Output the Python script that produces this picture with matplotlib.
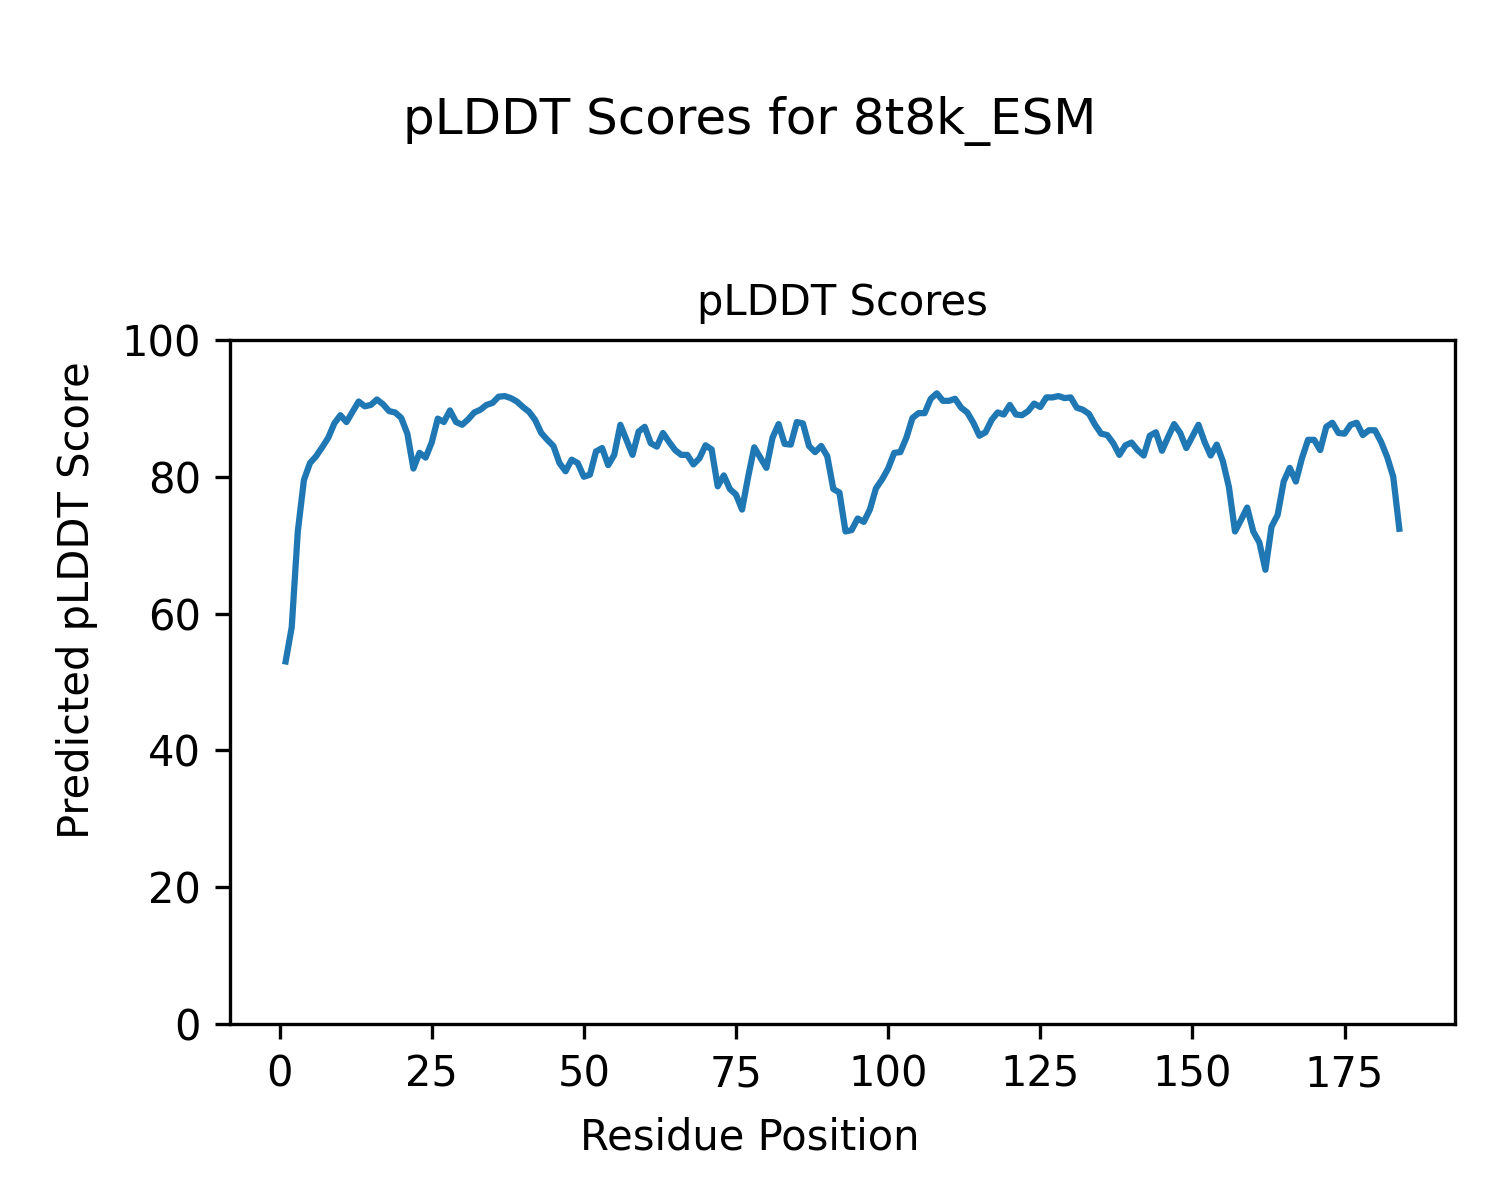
import numpy as np
import matplotlib
matplotlib.use('Agg')
from matplotlib import pyplot as plt

# pLDDT per residue
plddt = [
    53.0, 58.0, 72.0, 79.5, 82.0, 83.0, 84.3, 85.7, 87.8, 89.0,
    88.0, 89.5, 91.0, 90.3, 90.5, 91.3, 90.6, 89.6, 89.4, 88.6,
    86.3, 81.2, 83.5, 82.8, 85.0, 88.5, 88.0, 89.7, 88.0, 87.6,
    88.4, 89.4, 89.8, 90.5, 90.8, 91.7, 91.8, 91.5, 91.0, 90.2,
    89.5, 88.3, 86.4, 85.4, 84.5, 82.0, 80.8, 82.5, 82.0, 80.0,
    80.3, 83.7, 84.2, 81.7, 83.2, 87.6, 85.4, 83.2, 86.6, 87.3,
    84.9, 84.4, 86.4, 85.1, 83.9, 83.2, 83.2, 81.8, 82.7, 84.6,
    84.0, 78.6, 80.2, 78.2, 77.4, 75.2, 80.0, 84.3, 82.8, 81.3,
    85.7, 87.7, 84.8, 84.7, 88.0, 87.8, 84.5, 83.6, 84.5, 83.0,
    78.2, 77.7, 72.0, 72.2, 73.9, 73.4, 75.2, 78.3, 79.6, 81.2,
    83.5, 83.6, 85.7, 88.6, 89.3, 89.3, 91.4, 92.2, 91.1, 91.1,
    91.4, 90.1, 89.4, 87.9, 86.0, 86.5, 88.3, 89.4, 89.1, 90.5,
    89.1, 89.0, 89.6, 90.7, 90.2, 91.6, 91.6, 91.8, 91.5, 91.6,
    90.1, 89.8, 89.2, 87.6, 86.3, 86.1, 84.9, 83.2, 84.6, 85.0,
    83.9, 83.1, 86.0, 86.5, 83.8, 85.8, 87.7, 86.4, 84.2, 85.9,
    87.6, 85.1, 83.1, 84.7, 82.3, 78.5, 72.0, 73.7, 75.5, 72.0,
    70.4, 66.4, 72.7, 74.4, 79.3, 81.3, 79.3, 82.7, 85.4, 85.4,
    83.9, 87.3, 87.9, 86.4, 86.3, 87.6, 87.9, 86.1, 86.8, 86.8,
    85.1, 82.9, 80.0, 72.4,
]
residues = np.arange(1, len(plddt) + 1)

fig = plt.figure(figsize=(5, 4), dpi=300)
ax = fig.add_axes([0.1533, 0.1467, 0.8167, 0.57])
ax.plot(residues, plddt, color='tab:blue', linewidth=1.5)
ax.set_ylim(0, 100)
ax.set_title('pLDDT Scores', fontsize=10)

# labels sit on the figure, not the axes
fig.supxlabel('Residue Position', fontsize=10, y=0.0517, va='center')
fig.supylabel('Predicted pLDDT Score', fontsize=10, x=0.0513, ha='center')
fig.suptitle('pLDDT Scores for 8t8k_ESM', y=0.92)

fig.savefig('out.png', dpi=300)
